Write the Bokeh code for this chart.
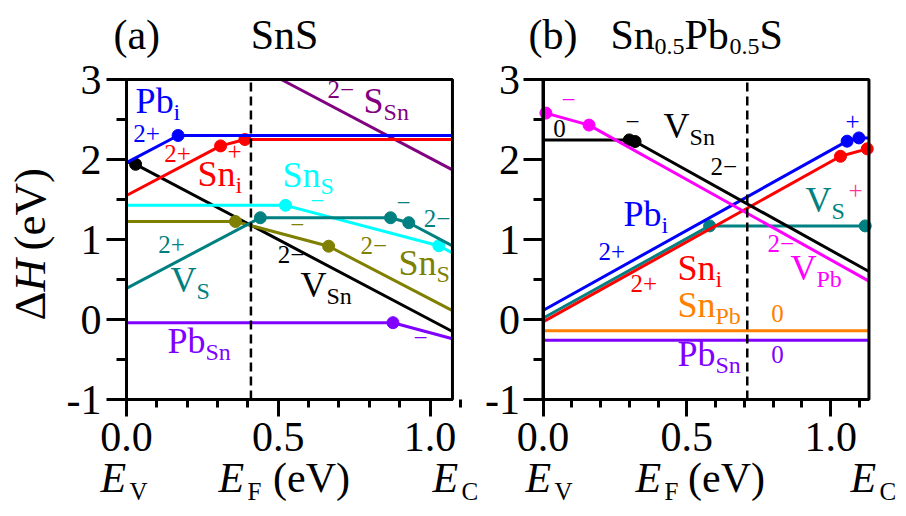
from math import pi

from bokeh.plotting import figure
from bokeh.layouts import row
from bokeh.models import (Range1d, FixedTicker, PrintfTickFormatter, Label,
                          BoxAnnotation)
from bokeh.embed import file_html
from bokeh.resources import INLINE

SERIF = "Liberation Serif"

# ---------------- SnS (panel a) ----------------
gap_a = 1.074          # band gap, E_V = 0 .. E_C
ef_a = 0.41            # equilibrium Fermi level

# Fermi-level vertices (eV), formation energies (eV), indices of transition dots
pbi_a_E = [0.0, 0.17, 1.074];              pbi_a_H = [1.96, 2.30, 2.30];              pbi_a_dots = [1]
sni_a_E = [0.0, 0.31, 0.39, 1.074];        sni_a_H = [1.55, 2.17, 2.25, 2.25];        sni_a_dots = [1, 2]
vsn_a_E = [0.0, 0.03, 1.074];              vsn_a_H = [1.97, 1.94, -0.15];             vsn_a_dots = [1]
ssn_a_E = [0.51, 1.074];                   ssn_a_H = [3.0, 1.87];                     ssn_a_dots = []
sns1_a_E = [0.0, 0.524, 1.029, 1.074];     sns1_a_H = [1.427, 1.427, 0.922, 0.832];   sns1_a_dots = [1, 2]
sns2_a_E = [0.0, 0.359, 0.666, 1.074];     sns2_a_H = [1.225, 1.225, 0.916, 0.11];    sns2_a_dots = [1, 2]
vs_a_E = [0.0, 0.441, 0.870, 0.930, 1.074]; vs_a_H = [0.39, 1.272, 1.272, 1.21, 0.92]; vs_a_dots = [1, 2, 3]
pbsn_a_E = [0.0, 0.878, 1.074];            pbsn_a_H = [-0.04, -0.04, -0.24];          pbsn_a_dots = [1]

# ---------------- Sn0.5Pb0.5S (panel b) ----------------
gap_b = 1.133
ef_b = 0.71

vpb_b_E = [0.01, 0.16, 1.133];             vpb_b_H = [2.58, 2.43, 0.48];              vpb_b_dots = [0, 1]
vsn_b_E = [0.0, 0.30, 0.32, 1.133];        vsn_b_H = [2.245, 2.245, 2.225, 0.60];     vsn_b_dots = [1, 2]
pbi_b_E = [0.0, 1.057, 1.098, 1.133];      pbi_b_H = [0.113, 2.229, 2.27, 2.27];      pbi_b_dots = [1, 2]
sni_b_E = [0.0, 1.034, 1.127, 1.133];      sni_b_H = [-0.03, 2.04, 2.133, 2.133];     sni_b_dots = [1, 2]
vs_b_E = [0.0, 0.579, 1.12, 1.133];        vs_b_H = [0.015, 1.17, 1.17, 1.17];        vs_b_dots = [1, 2]
snpb_b_E = [0.0, 1.133];                   snpb_b_H = [-0.14, -0.14];                 snpb_b_dots = []
pbsn_b_E = [0.0, 1.133];                   pbsn_b_H = [-0.26, -0.26];                 pbsn_b_dots = []

x_major = [0.0, 0.5, 1.0]
x_minor = [0.1, 0.2, 0.3, 0.4, 0.6, 0.7, 0.8, 0.9, 1.1]
y_major = [-1, 0, 1, 2, 3]
y_minor = [-0.5, 0.5, 1.5, 2.5]
H_MIN, H_MAX = -1, 3

BLUE, RED, BLACK = "#0000ff", "#ff0000", "#000000"
PURPLE, CYAN, OLIVE = "#800080", "#00ffff", "#808000"
TEAL, VIOLET, MAGENTA = "#008080", "#8000ff", "#ff00ff"
ORANGE, PINK = "#ff8000", "#ff3399"

# page geometry: canvas height, top of the plotting box, pixels per eV vertically
CANVAS_H, BOX_TOP, PX_H = 516, 79, 80.0

# Times-style advance widths (1/1000 em) for placing subscripts
ADV = {"P": 556, "b": 500, "S": 556, "n": 500, "V": 722, "i": 278, "0": 500,
       ".": 250, "5": 500, "E": 611, "H": 722, "(": 333, ")": 333, "e": 444}

# labels are anchored on their vertical centre; lift by this fraction of the
# font size so that the given y is the alphabetic baseline
BASE_SHIFT = 0.36


def tw(s, size):
    return sum(ADV.get(c, 500) for c in s) / 1000.0 * size


def txt(p, x, y, s, color="black", size=25, align="left", style="normal",
        dx=0.0, dy=0.0, rotated=False):
    if rotated:
        dx -= BASE_SHIFT * size
        angle = pi / 2
    else:
        dy += BASE_SHIFT * size
        angle = 0.0
    p.add_layout(Label(x=x, y=y, text=s, text_color=color, text_font=SERIF,
                       text_font_size=f"{size}px", text_font_style=style,
                       text_align=align, text_baseline="alphabetic",
                       x_offset=round(dx), y_offset=round(dy), angle=angle))


def species(p, x, y, main, sub, color, size=36, sub_size=24, drop=7):
    txt(p, x, y, main, color, size)
    txt(p, x, y, sub, color, sub_size, dx=tw(main, size), dy=-drop)


def caption(p, x, sub):
    # italic E with an upright subscript, on the caption line below the axis
    txt(p, x, -2.1625, "E", size=42, style="italic")
    txt(p, x, -2.1625, sub, size=25, dx=29, dy=-8)


def make_panel(width, x0, px_e, gap, standoff):
    """One panel; the frame fills the canvas and the axes sit at E=0 / H=-1."""
    y_lo = H_MAX - (CANVAS_H - BOX_TOP) / PX_H
    y_hi = H_MAX + BOX_TOP / PX_H
    p = figure(width=width, height=CANVAS_H, output_backend="svg",
               toolbar_location=None,
               x_range=Range1d(-x0 / px_e, (width - x0) / px_e),
               y_range=Range1d(y_lo, y_hi), min_border=0)
    p.grid.visible = False
    p.outline_line_color = None
    p.background_fill_color = "white"
    p.border_fill_color = "white"

    p.xaxis.fixed_location = H_MIN
    p.xaxis.bounds = (0, gap)
    p.xaxis.ticker = FixedTicker(ticks=x_major, minor_ticks=x_minor)
    p.xaxis.formatter = PrintfTickFormatter(format="%.1f")
    p.xaxis.major_tick_out = 17
    p.xaxis.minor_tick_out = 8
    p.xaxis.major_label_standoff = 6
    p.xaxis.major_label_text_font_size = "42px"

    p.yaxis.fixed_location = 0
    p.yaxis.bounds = (H_MIN, H_MAX)
    p.yaxis.ticker = FixedTicker(ticks=y_major, minor_ticks=y_minor)
    p.yaxis.formatter = PrintfTickFormatter(format="%d")
    p.yaxis.major_tick_out = 20
    p.yaxis.minor_tick_out = 10
    p.yaxis.major_label_standoff = standoff
    p.yaxis.major_label_text_font_size = "42px"

    for ax in (p.xaxis, p.yaxis):
        ax.axis_line_width = 3
        ax.major_tick_line_width = 3
        ax.minor_tick_line_width = 3
        ax.major_tick_in = 0
        ax.minor_tick_in = 0
        ax.major_label_text_font = SERIF
        ax.major_label_text_color = "black"

    p.add_layout(BoxAnnotation(left=0, right=gap, bottom=H_MIN, top=H_MAX,
                               fill_color=None, fill_alpha=0,
                               line_color="black", line_alpha=1.0,
                               line_width=3))
    return p


def draw(p, series, ef):
    for color, E, H, dots in series:
        p.line(E, H, line_color=color, line_width=3)
        if dots:
            p.scatter([E[i] for i in dots], [H[i] for i in dots], size=12,
                      color=color)
    p.line([ef, ef], [H_MIN, H_MAX], line_color="black", line_width=2.5,
           line_dash="9 5")


# ================= panel (a) =================
pa = make_panel(484, 126, 303.5, gap_a, 5)
draw(pa, [
    (PURPLE, ssn_a_E, ssn_a_H, ssn_a_dots),
    (BLACK, vsn_a_E, vsn_a_H, vsn_a_dots),
    (CYAN, sns1_a_E, sns1_a_H, sns1_a_dots),
    (OLIVE, sns2_a_E, sns2_a_H, sns2_a_dots),
    (TEAL, vs_a_E, vs_a_H, vs_a_dots),
    (VIOLET, pbsn_a_E, pbsn_a_H, pbsn_a_dots),
    (RED, sni_a_E, sni_a_H, sni_a_dots),
    (BLUE, pbi_a_E, pbi_a_H, pbi_a_dots),
], ef_a)

species(pa, 0.030, 2.575, "Pb", "i", BLUE)
txt(pa, 0.066, 2.2125, "2+", BLUE, align="center")
txt(pa, 0.168, 1.9625, "2+", RED, align="center")
txt(pa, 0.356, 1.9875, "+", RED, align="center")
species(pa, 0.234, 1.6625, "Sn", "i", RED)
species(pa, 0.514, 1.65, "Sn", "S", CYAN)
txt(pa, 0.629, 1.375, "\u2212", CYAN, align="center")
txt(pa, 0.662, 2.7625, "2\u2212", PURPLE)
species(pa, 0.781, 2.575, "S", "Sn", PURPLE)
txt(pa, 0.563, 1.075, "\u2212", OLIVE, align="center")
txt(pa, 0.771, 0.8125, "2\u2212", OLIVE)
species(pa, 0.896, 0.55, "Sn", "S", OLIVE)
txt(pa, 0.913, 1.35, "\u2212", TEAL, align="center")
txt(pa, 0.979, 1.15, "2\u2212", TEAL)
txt(pa, 0.105, 0.825, "2+", TEAL)
species(pa, 0.145, 0.3375, "V", "S", TEAL)
txt(pa, 0.498, 0.70, "2\u2212", BLACK)
species(pa, 0.573, 0.275, "V", "Sn", BLACK)
species(pa, 0.135, -0.425, "Pb", "Sn", VIOLET)
txt(pa, 0.969, -0.3375, "\u2212", VIOLET, align="center")

# title
txt(pa, -0.043, 3.375, "(a)", size=42)
txt(pa, 0.409, 3.375, "SnS", size=42)

# vertical axis title, reading upwards
txt(pa, -0.2636, -0.0125, "\u0394", size=45, rotated=True)
txt(pa, -0.2636, -0.0125, "H", size=45, style="italic", rotated=True, dy=29)
txt(pa, -0.2636, -0.0125, "(eV)", size=45, rotated=True, dy=70)

# band-edge / Fermi-level captions
caption(pa, -0.0857, "V")
caption(pa, 0.303, "F")
caption(pa, 1.0082, "C")
txt(pa, 0.6096, -2.1625, "(eV)", size=42, align="center")

# ================= panel (b) =================
pb = make_panel(422, 58.5, 287.7, gap_b, 3)
draw(pb, [
    (ORANGE, snpb_b_E, snpb_b_H, snpb_b_dots),
    (VIOLET, pbsn_b_E, pbsn_b_H, pbsn_b_dots),
    (TEAL, vs_b_E, vs_b_H, vs_b_dots),
    (RED, sni_b_E, sni_b_H, sni_b_dots),
    (BLUE, pbi_b_E, pbi_b_H, pbi_b_dots),
    (BLACK, vsn_b_E, vsn_b_H, vsn_b_dots),
    (MAGENTA, vpb_b_E, vpb_b_H, vpb_b_dots),
], ef_b)

txt(pb, 0.0886, 2.6375, "\u2212", MAGENTA, align="center")
txt(pb, 0.0574, 2.275, "0", BLACK, align="center")
txt(pb, 0.311, 2.3625, "\u2212", BLACK, align="center")
species(pb, 0.419, 2.2625, "V", "Sn", BLACK)
txt(pb, 0.582, 1.80, "2\u2212", BLACK)
txt(pb, 1.0758, 2.3625, "+", BLUE, align="center")
species(pb, 0.912, 1.3375, "V", "S", TEAL)
txt(pb, 1.086, 1.50, "+", PINK, align="center")
species(pb, 0.280, 1.1625, "Pb", "i", BLUE)
txt(pb, 0.193, 0.7375, "2+", BLUE)
species(pb, 0.4675, 0.4875, "Sn", "i", RED)
txt(pb, 0.304, 0.3375, "2+", RED)
txt(pb, 0.780, 0.8375, "2\u2212", MAGENTA)
species(pb, 0.860, 0.4875, "V", "Pb", MAGENTA)
species(pb, 0.4675, 0.025, "Sn", "Pb", ORANGE)
txt(pb, 0.815, -0.0375, "0", ORANGE, align="center")
species(pb, 0.4675, -0.5875, "Pb", "Sn", VIOLET)
txt(pb, 0.815, -0.55, "0", VIOLET, align="center")

# title Sn0.5Pb0.5S
txt(pb, -0.0504, 3.375, "(b)", size=42)
off = 0.0
for piece, is_sub in [("Sn", False), ("0.5", True), ("Pb", False), ("0.5", True), ("S", False)]:
    size = 24 if is_sub else 42
    txt(pb, 0.2346, 3.375, piece, size=size, dx=off, dy=-6 if is_sub else 0)
    off += tw(piece, size)

caption(pb, -0.0608, "V")
caption(pb, 0.3215, "F")
caption(pb, 1.0688, "C")
txt(pb, 0.6378, -2.1625, "(eV)", size=42, align="center")

layout = row(pa, pb)
open("out.html", "w").write(file_html(layout, INLINE))
